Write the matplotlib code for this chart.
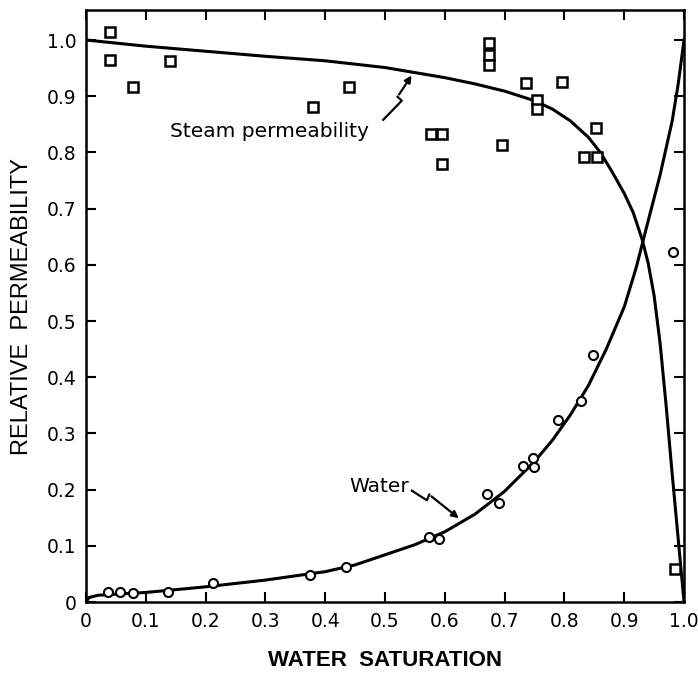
import matplotlib
matplotlib.use('Agg')
import matplotlib.pyplot as plt

# данные
steam_x = [0.04, 0.04, 0.079, 0.14, 0.38, 0.44, 0.577, 0.596, 0.596, 0.674, 0.674, 0.674,
           0.695, 0.736, 0.754, 0.754, 0.796, 0.852, 0.833, 0.854, 0.985]
steam_y = [1.014, 0.964, 0.916, 0.963, 0.881, 0.916, 0.832, 0.832, 0.779, 0.994, 0.974, 0.955,
           0.813, 0.924, 0.893, 0.877, 0.925, 0.844, 0.792, 0.792, 0.058]

water_x = [0.036, 0.057, 0.078, 0.137, 0.213, 0.375, 0.434, 0.574, 0.591, 0.670, 0.691,
           0.730, 0.747, 0.749, 0.789, 0.828, 0.848, 0.982]
water_y = [0.018, 0.017, 0.016, 0.018, 0.033, 0.048, 0.063, 0.115, 0.112, 0.193, 0.177,
           0.242, 0.256, 0.240, 0.323, 0.358, 0.440, 0.622]

# кривые (точки)
steam_cx = [0, 0.1, 0.2, 0.3, 0.4, 0.5, 0.6, 0.65, 0.7, 0.75, 0.78, 0.81, 0.84, 0.86, 0.88,
            0.9, 0.915, 0.93, 0.94, 0.95, 0.96, 0.97, 0.98, 0.99, 1.0]
steam_cy = [1.0, 0.989, 0.980, 0.971, 0.963, 0.951, 0.933, 0.922, 0.909, 0.892, 0.877, 0.856,
            0.827, 0.800, 0.765, 0.727, 0.693, 0.645, 0.603, 0.545, 0.46, 0.35, 0.23, 0.115, 0.0]

water_cx = [0, 0.005, 0.02, 0.1, 0.2, 0.3, 0.4, 0.45, 0.5, 0.55, 0.6, 0.65, 0.7, 0.75, 0.78,
            0.81, 0.84, 0.87, 0.9, 0.92, 0.94, 0.96, 0.98, 0.99, 1.0]
water_cy = [0, 0.008, 0.012, 0.017, 0.027, 0.039, 0.054, 0.066, 0.084, 0.102, 0.125, 0.156,
            0.197, 0.250, 0.288, 0.333, 0.385, 0.450, 0.525, 0.595, 0.678, 0.76, 0.855, 0.92, 1.0]

# выноски-молнии
steam_lead_x = [0.497, 0.528, 0.521, 0.547]
steam_lead_y = [0.858, 0.892, 0.899, 0.941]
water_lead_x = [0.545, 0.570, 0.574, 0.627]
water_lead_y = [0.198, 0.181, 0.191, 0.146]

xticks = [0, 0.1, 0.2, 0.3, 0.4, 0.5, 0.6, 0.7, 0.8, 0.9, 1.0]
xlabels = ['0', '0.1', '0.2', '0.3', '0.4', '0.5', '0.6', '0.7', '0.8', '0.9', '1.0']
yticks = [0, 0.1, 0.2, 0.3, 0.4, 0.5, 0.6, 0.7, 0.8, 0.9, 1.0]
ylabels = ['0', '0.1', '0.2', '0.3', '0.4', '0.5', '0.6', '0.7', '0.8', '0.9', '1.0']

fig = plt.figure(figsize=(6.98, 6.81), dpi=100)
ax = fig.add_axes([0.1232, 0.116, 0.8568, 0.869])

ax.plot(steam_cx, steam_cy, color='black', lw=2.2)
ax.plot(water_cx, water_cy, color='black', lw=2.2)
ax.plot(steam_x, steam_y, ls='none', marker='s', ms=6.5, mfc='white', mec='black', mew=1.8)
ax.plot(water_x, water_y, ls='none', marker='o', ms=6.5, mfc='white', mec='black', mew=1.5)

ax.plot(steam_lead_x[:-1], steam_lead_y[:-1], color='black', lw=1.6)
ax.annotate('', xy=(steam_lead_x[-1], steam_lead_y[-1]), xytext=(steam_lead_x[-2], steam_lead_y[-2]),
            arrowprops=dict(arrowstyle='-|>', color='black', lw=1.6, mutation_scale=10))
ax.plot(water_lead_x[:-1], water_lead_y[:-1], color='black', lw=1.6)
ax.annotate('', xy=(water_lead_x[-1], water_lead_y[-1]), xytext=(water_lead_x[-2], water_lead_y[-2]),
            arrowprops=dict(arrowstyle='-|>', color='black', lw=1.6, mutation_scale=10))

ax.text(0.140, 0.837, 'Steam permeability', fontsize=14.5, va='center', ha='left')
ax.text(0.441, 0.205, 'Water', fontsize=14.5, va='center', ha='left')

ax.set_xlim(0, 1.0)
ax.set_ylim(0, 1.053)
ax.set_xticks(xticks)
ax.set_xticklabels(xlabels)
ax.set_yticks(yticks)
ax.set_yticklabels(ylabels)
ax.tick_params(direction='in', length=7, width=1.5, top=True, right=True, labelsize=13.5, pad=7)
for s in ax.spines.values():
    s.set_linewidth(1.8)

ax.set_xlabel('WATER  SATURATION', fontsize=16, fontweight='bold', family='Liberation Sans', labelpad=14)
ax.set_ylabel('RELATIVE  PERMEABILITY', fontsize=17, family='Liberation Sans', labelpad=10)

plt.savefig('out.png', dpi=100)
